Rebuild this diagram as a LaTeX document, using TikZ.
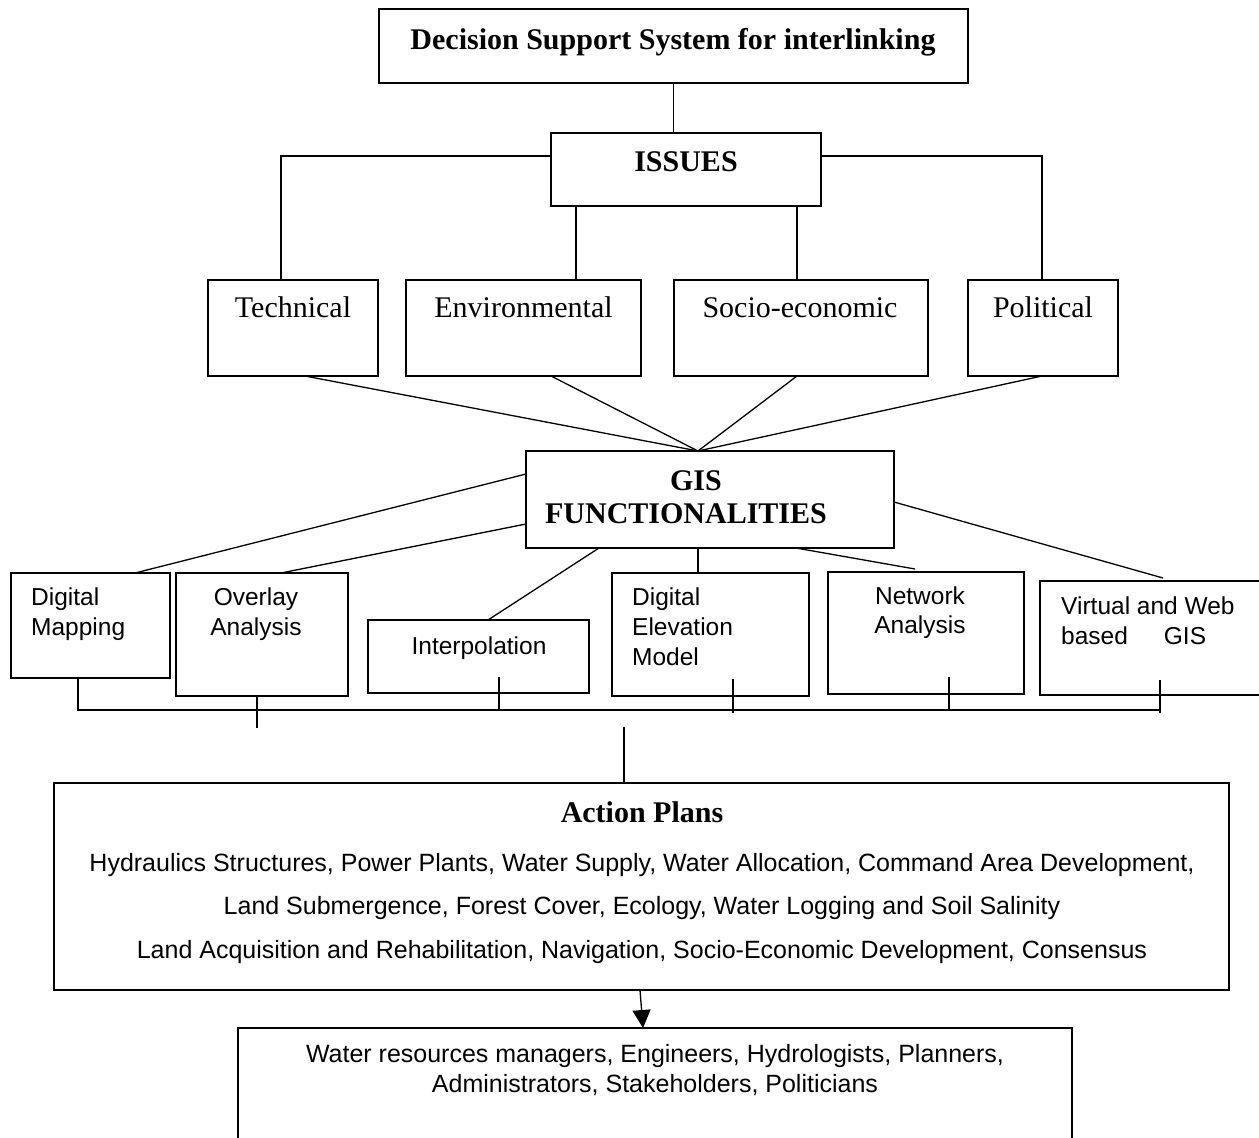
\documentclass[tikz,border=0pt]{standalone}
\usepackage{fontspec}
\setmainfont{Liberation Serif}
\newfontfamily\arialf{Liberation Sans}
\usetikzlibrary{calc,arrows.meta}
\begin{document}
\begin{tikzpicture}[x=1pt,y=-1pt,
  box/.style={draw, line width=1.5pt, rectangle, inner sep=0pt, outer sep=0pt},
  conn/.style={line width=1.3pt},
  serT/.style={font=\fontsize{30}{34}\selectfont, anchor=base, inner sep=0pt},
  serB/.style={font=\bfseries\fontsize{30}{34}\selectfont, anchor=base, inner sep=0pt},
  sanT/.style={font=\arialf\fontsize{24.5}{29}\selectfont, anchor=base, inner sep=0pt},
  sanW/.style={font=\arialf\fontsize{25}{29}\selectfont, anchor=base, inner sep=0pt},
  sanL/.style={sanT, anchor=base west}]
\useasboundingbox (0,0) rectangle (1259,1138);
\fill[white] (0,0) rectangle (1259,1138);
\clip (0,0) rectangle (1259,1138);

% boxes
\node[box, minimum width=589pt, minimum height=74pt] (top) at (673.5,46) {};
\node[box, minimum width=270pt, minimum height=73pt] (issues) at (686,169.5) {};
\node[box, minimum width=170pt, minimum height=96pt] (tech) at (293,328) {};
\node[box, minimum width=235pt, minimum height=96pt] (env) at (523.5,328) {};
\node[box, minimum width=254pt, minimum height=96pt] (soc) at (801,328) {};
\node[box, minimum width=150pt, minimum height=96pt] (pol) at (1043,328) {};
\node[box, minimum width=368pt, minimum height=97pt] (gis) at (710,499.5) {};
\node[box, minimum width=159pt, minimum height=105pt] (dm) at (90.5,625.5) {};
\node[box, minimum width=172pt, minimum height=123pt] (ov) at (262,634.5) {};
\node[box, minimum width=221pt, minimum height=73pt] (interp) at (478.5,656.5) {};
\node[box, minimum width=197pt, minimum height=123pt] (dem) at (710.5,634.5) {};
\node[box, minimum width=196pt, minimum height=122pt] (net) at (926,633) {};
\node[box, minimum width=222pt, minimum height=114pt] (virt) at (1151,638) {};
\node[box, minimum width=1175pt, minimum height=207pt] (action) at (641.5,886.5) {};
\node[box, minimum width=834pt, minimum height=122pt] (users) at (655,1089) {};

% texts
\node[serB] (tTitle) at (673,49) {Decision Support System for interlinking};
\node[serB] (tIssues) at (686,171) {ISSUES};
\node[serT] (tTech) at (293,317) {Technical};
\node[serT] (tEnv) at (523.5,317) {Environmental};
\node[serT] (tSoc) at (800,317) {Socio-economic};
\node[serT] (tPol) at (1043,317) {Political};
\node[serB] (tGisA) at (696,490) {GIS};
\node[serB] (tGisB) at (686,523) {FUNCTIONALITIES};
\node[sanL] (tDmA) at (31,605.5) {Digital};
\node[sanL] (tDmB) at (31,635) {Mapping};
\node[sanT] (tOvA) at (256,605.5) {Overlay};
\node[sanT] (tOvB) at (256,635) {Analysis};
\node[sanT] (tInt) at (479,654) {Interpolation};
\node[sanL] (tDemA) at (632,605.5) {Digital};
\node[sanL] (tDemB) at (632,635.5) {Elevation};
\node[sanL] (tDemC) at (632,665.5) {Model};
\node[sanT] (tNetA) at (920,604) {Network};
\node[sanT] (tNetB) at (920,633.5) {Analysis};
\node[sanL] (tVirA) at (1061,614.5) {Virtual and Web};
\node[sanL] (tVirB) at (1061,644) {based\hspace{36pt}GIS};
\node[serB] (tAct) at (642,822) {Action Plans};
\node[sanW] (tActA) at (642,871) {Hydraulics Structures, Power Plants, Water Supply, Water Allocation, Command Area Development,};
\node[sanW] (tActB) at (642,914.5) {Land Submergence, Forest Cover, Ecology, Water Logging and Soil Salinity};
\node[sanW] (tActC) at (642,958) {Land Acquisition and Rehabilitation, Navigation, Socio-Economic Development, Consensus};
\node[sanW] (tUsA) at (655,1062) {Water resources managers, Engineers, Hydrologists, Planners,};
\node[sanW] (tUsB) at (655,1092) {Administrators, Stakeholders, Politicians};

% connectors: top part
\draw[conn] (top.south) -- (top.south |- issues.north);
\coordinate (iw) at ($(issues.north west)!0.315!(issues.south west)$);
\coordinate (ie) at ($(issues.north east)!0.315!(issues.south east)$);
\draw[conn] (iw) -| ([xshift=-12pt]tech.north);
\draw[conn] (ie) -| ([xshift=-1pt]pol.north);
\coordinate (is1) at ($(issues.south west)!0.0926!(issues.south east)$);
\coordinate (is2) at ($(issues.south west)!0.911!(issues.south east)$);
\draw[conn] (is1) -- (is1 |- env.north);
\draw[conn] (is2) -- (is2 |- soc.north);

% issues to GIS
\coordinate (gN) at ([xshift=-12pt]gis.north);
\draw[conn] ([xshift=12pt]tech.south) -- (gN);
\draw[conn] ([xshift=27.5pt]env.south) -- (gN);
\draw[conn] ([xshift=-4pt]soc.south) -- (gN);
\draw[conn] ([xshift=-1pt]pol.south) -- (gN);

% GIS to functionalities
\draw[conn] ([yshift=25.5pt]gis.west) -- ([xshift=44.5pt]dm.north);
\draw[conn] ([yshift=-24.5pt]gis.west) -- ([xshift=19pt]ov.north);
\draw[conn] ([xshift=-111pt]gis.south) -- ([xshift=9.5pt]interp.north);
\draw[conn] ([xshift=-12pt]gis.south) -- ([xshift=-12pt]gis.south |- dem.north);
\draw[conn] ([xshift=86pt]gis.south) -- ([xshift=-11pt,yshift=3pt]net.north);
\draw[conn] ([yshift=-2.5pt]gis.east) -- ([xshift=12pt,yshift=3pt]virt.north);

% bus
\coordinate (busy) at (0,710);
\draw[conn] ([xshift=-12.5pt]dm.south) |- ([xshift=9pt]virt.south |- busy);
\draw[conn] ([xshift=-5pt]ov.south) -- ++(0,32);
\draw[conn] ([xshift=20.5pt,yshift=16pt]interp.south) -- ([xshift=20.5pt]interp.south |- busy);
\draw[conn] ([xshift=22.5pt,yshift=17pt]dem.south) -- ++(0,34);
\draw[conn] ([xshift=23pt,yshift=17pt]net.south) -- ([xshift=23pt]net.south |- busy);
\draw[conn] ([xshift=9pt,yshift=15pt]virt.south) -- ++(0,33);

% drop to action plans
\coordinate (drop) at (624,727);
\draw[conn] (drop) -- (drop |- action.north);

% arrow to users
\draw[conn, -{Triangle[width=18pt,length=18pt]}] ([xshift=-1.5pt]action.south) -- ([xshift=-12pt]users.north);
\end{tikzpicture}
\end{document}
